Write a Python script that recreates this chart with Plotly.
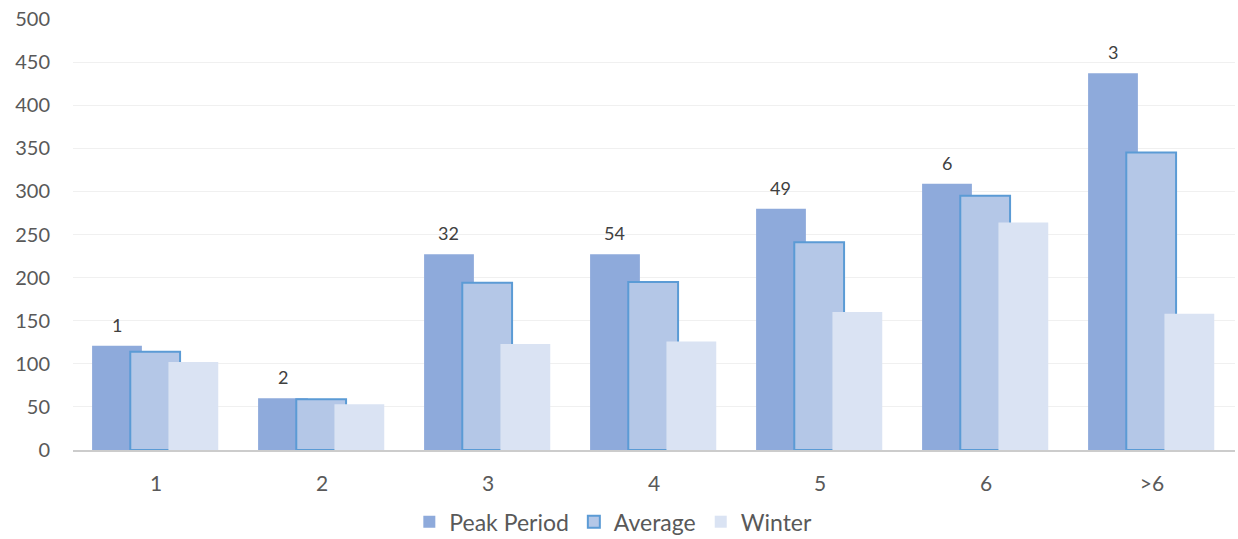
import plotly.graph_objects as go

# Household-size categories and the three series per category
categories = ["1", "2", "3", "4", "5", "6", ">6"]
peak_period = [121, 60, 227, 227, 280, 309, 437]
average = [114, 59, 194, 195, 241, 295, 345]
winter = [102, 53, 123, 126, 160, 264, 158]
sample_counts = ["1", "2", "32", "54", "49", "6", "3"]

positions = list(range(len(categories)))
bar_w = 0.30

FONT = "Lato, 'Open Sans', sans-serif"
TXT = "#595959"

fig = go.Figure()
fig.add_trace(go.Bar(
    name="Peak Period", x=positions, y=peak_period,
    offset=-0.385, width=bar_w,
    marker=dict(color="#8eaadb", line=dict(width=0)),
))
fig.add_trace(go.Bar(
    name="Average", x=positions, y=average,
    offset=-0.155, width=bar_w,
    marker=dict(color="#b4c7e7", line=dict(color="#5b9bd5", width=2)),
))
fig.add_trace(go.Bar(
    name="Winter", x=positions, y=winter,
    offset=0.075, width=bar_w,
    marker=dict(color="#dae3f3", line=dict(width=0)),
))

# Sample counts written above the peak-period bars
for p, v, t in zip(positions, peak_period, sample_counts):
    fig.add_annotation(
        x=p - 0.235, y=v, text=t, showarrow=False,
        yanchor="middle", yshift=21,
        font=dict(family=FONT, size=18, color="#404040"),
    )

fig.update_layout(
    barmode="overlay",
    width=1238, height=539,
    margin=dict(l=73, r=3, t=19, b=89, autoexpand=False),
    paper_bgcolor="white", plot_bgcolor="white",
    font=dict(family=FONT, size=20, color=TXT),
    legend=dict(
        orientation="h", x=0.465, xanchor="center",
        yref="container", y=0.032, yanchor="middle",
        font=dict(family=FONT, size=23, color=TXT),
        itemwidth=30,
    ),
    xaxis=dict(
        range=[-0.5, len(categories) - 0.5],
        tickmode="array", tickvals=positions, ticktext=categories,
        showgrid=False, zeroline=False,
        showline=True, linecolor="#cccccc", linewidth=2,
        ticks="", ticklabelstandoff=14,
        tickfont=dict(size=21, color=TXT),
    ),
    yaxis=dict(
        range=[0, 500], tickmode="linear", tick0=0, dtick=50,
        showgrid=True, gridcolor="#f0f0f0", gridwidth=1,
        zeroline=False, showline=False, ticks="",
        ticklabelstandoff=22,
        tickfont=dict(size=20, color=TXT),
    ),
)

fig.write_html("out.html")
